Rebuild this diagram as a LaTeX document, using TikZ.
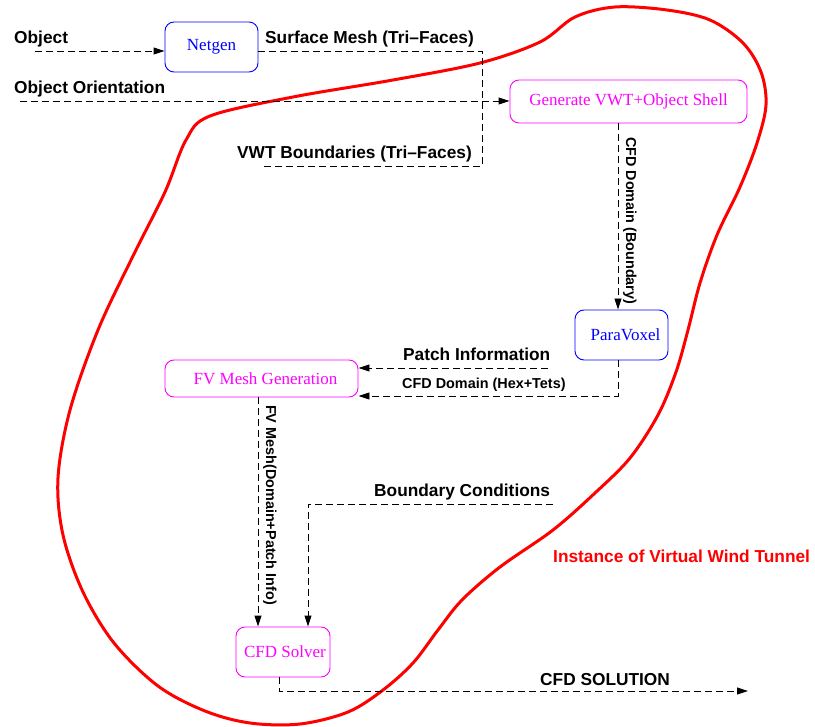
\documentclass[tikz,border=0pt]{standalone}
\usepackage{fontspec}
\setmainfont{Liberation Serif}
\setsansfont{Liberation Sans}
\usetikzlibrary{arrows.meta}
\definecolor{mag}{RGB}{255,0,255}
\definecolor{blu}{RGB}{0,0,255}
\definecolor{rd}{RGB}{255,0,0}
\begin{document}
\begin{tikzpicture}[x=1pt,y=-1pt,
  box/.style={draw, rounded corners=9pt, line width=0.9pt, inner sep=0pt,
    font=\fontsize{17}{20}\selectfont},
  lab/.style={inner sep=0pt, anchor=base west, font=\sffamily\bfseries\fontsize{17.3}{20}\selectfont},
  slab/.style={inner sep=0pt, anchor=base west, font=\sffamily\bfseries\fontsize{14.4}{17}\selectfont},
  dsh/.style={draw, line width=0.9pt, dash pattern=on 7pt off 4pt},
  arr/.style={dsh, -{Triangle[length=11pt,width=7pt]}}]
\useasboundingbox (0,0) rectangle (815,727);
% wind tunnel outline
\draw[rd, line width=3pt] plot[smooth cycle, tension=0.55] coordinates {
 (540,42) (575,17) (615,7) (667,10) (710,20) (743,43) (761,72) (766,105)
 (757,143) (740,187) (717,235) (700,283) (688,330) (676,372) (658,415)
 (630,458) (595,493) (553,530) (500,567) (462,600) (438,630) (413,663)
 (383,690) (348,712) (300,724) (250,723) (205,711)
 (158,686) (114,643) (83,592) (63,535) (58,478) (70,410) (98,330)
 (133,256) (165,192) (186,140) (210,116) (293,97) (393,80) (480,63)};
% nodes
\node[box, blu, minimum width=93pt, minimum height=50pt] (netgen) at (211.5,47) {Netgen};
\node[box, mag, minimum width=237pt, minimum height=43pt] (gen) at (628.5,101.5) {Generate VWT+Object Shell};
\node[box, blu, minimum width=93pt, minimum height=50pt] (pv) at (621.5,335) {\hspace*{8pt}ParaVoxel};
\node[box, mag, minimum width=193pt, minimum height=37pt] (fv) at (261.5,378.5) {\hspace*{8pt}FV Mesh Generation};
\node[box, mag, minimum width=94pt, minimum height=50pt] (cfd) at (283,652) {\hspace*{4pt}CFD Solver};
% labels
\node[lab] (lobj) at (14,44) {Object};
\node[lab] (lsm) at (265,44) {Surface Mesh (Tri--Faces)};
\node[lab] (loo) at (14,94) {Object Orientation};
\node[lab] (lvwt) at (237,159) {VWT Boundaries (Tri--Faces)};
\node[slab, rotate=-90] (lcdb) at (626,137) {CFD Domain (Boundary)};
\node[lab] (lpi) at (403,361) {Patch Information};
\node[slab] (lcdh) at (402,389) {CFD Domain (Hex+Tets)};
\node[slab, rotate=-90] (lfvm) at (266,405) {FV Mesh(Domain+Patch Info)};
\node[lab] (lbc) at (374,497) {Boundary Conditions};
\node[lab] (lsol) at (540,685) {CFD SOLUTION};
\node[lab, rd] (linst) at (553,562) {Instance of Virtual Wind Tunnel};
% connector ends
\coordinate (objS) at (35,51);
\coordinate (smC) at (482,51);
\coordinate (vwtE) at (262,166);
\coordinate (ooS) at (20,101);
\coordinate (cx) at (618,0);
\coordinate (pvC) at (618,396);
\coordinate (piS) at (548,368);
\coordinate (fx) at (258,0);
\coordinate (bcS) at (553,504);
\coordinate (bcC) at (308,504);
\coordinate (solC) at (279,691);
\coordinate (solE) at (748,691);
% connectors
\draw[arr] (objS) -- (objS -| netgen.west);
\draw[dsh] (netgen.east |- smC) -- (smC) |- (vwtE);
\draw[arr] (ooS) -- (ooS -| gen.west);
\draw[arr] (gen.south -| cx) -- (pv.north -| cx);
\draw[arr] (pv.south -| cx) -- (pvC) -- (pvC -| fv.east);
\draw[arr] (piS) -- (piS -| fv.east);
\draw[arr] (fv.south -| fx) -- (cfd.north -| fx);
\draw[arr] (bcS) -- (bcC) -- (bcC |- cfd.north);
\draw[arr] (cfd.south -| solC) -- (solC) -- (solE);
\end{tikzpicture}
\end{document}
